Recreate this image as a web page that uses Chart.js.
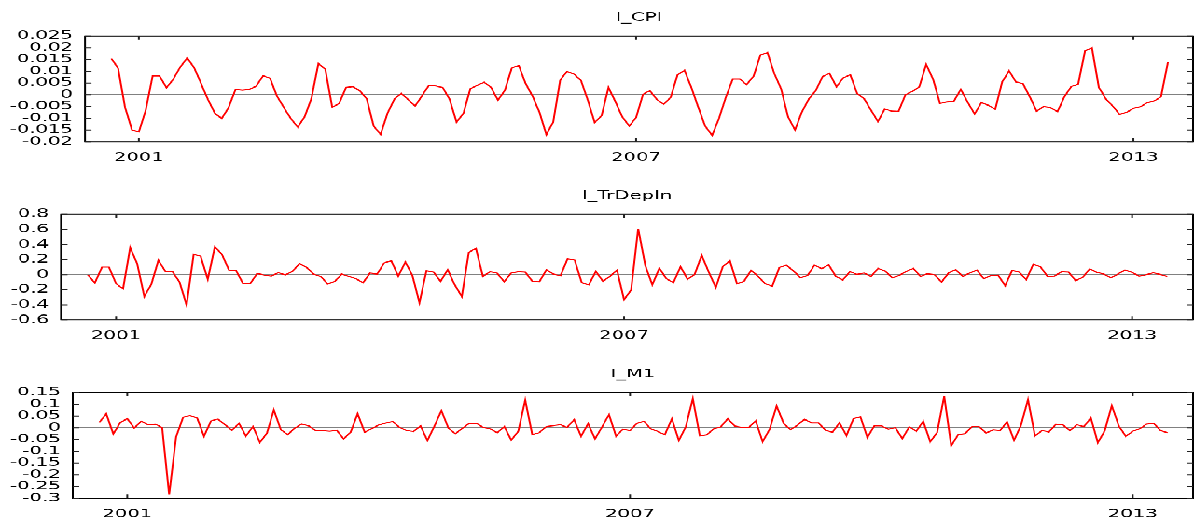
<!DOCTYPE html>
<html><head><meta charset="utf-8">
<script src="https://cdn.jsdelivr.net/npm/chart.js@4.4.1/dist/chart.umd.min.js"></script>
<style>
html,body{margin:0;padding:0;background:#fff;overflow:hidden;width:1194px;height:525px;}
#wrap{position:absolute;left:0;top:0;width:640px;height:480px;transform-origin:0 0;transform:scale(1.865625,1.09375);}
canvas{position:absolute;left:0;}
</style></head><body>
<div id="wrap">
<canvas id="c1" width="640" height="160" style="top:0px"></canvas>
<canvas id="c2" width="640" height="160" style="top:163px"></canvas>
<canvas id="c3" width="640" height="160" style="top:325.8px"></canvas>
</div>
<script>
// Monthly data, first observation 2000:09
const START_YEAR = 2000, START_MONTH = 9;
const X_TICKS = [2001, 2007, 2013];
const X_MIN = 2000.35, X_MAX = 2013.72;

const CPI = [0.0155,0.0112,-0.0054,-0.0150,-0.0158,-0.0065,0.0081,0.0080,0.0030,0.0067,
0.0118,0.0158,0.0115,0.0048,-0.0020,-0.0079,-0.0101,-0.0054,0.0023,0.0020,
0.0023,0.0037,0.0081,0.0070,-0.0006,-0.0055,-0.0101,-0.0138,-0.0094,-0.0014,
0.0133,0.0108,-0.0053,-0.0037,0.0031,0.0035,0.0017,-0.0018,-0.0133,-0.0169,
-0.0079,-0.0018,0.0006,-0.0021,-0.0048,-0.0004,0.0040,0.0037,0.0031,-0.0020,
-0.0116,-0.0079,0.0026,0.0040,0.0053,0.0031,-0.0023,0.0020,0.0114,0.0125,
0.0048,-0.0006,-0.0074,-0.0170,-0.0116,0.0062,0.0099,0.0088,0.0062,-0.0023,
-0.0118,-0.0089,0.0031,-0.0030,-0.0094,-0.0133,-0.0097,0.0003,0.0017,-0.0020,
-0.0040,-0.0011,0.0085,0.0104,0.0031,-0.0054,-0.0133,-0.0173,-0.0101,-0.0009,
0.0067,0.0067,0.0043,0.0079,0.0169,0.0180,0.0091,0.0024,-0.0094,-0.0150,
-0.0074,-0.0018,0.0017,0.0078,0.0091,0.0034,0.0072,0.0085,0.0006,-0.0017,
-0.0065,-0.0114,-0.0061,-0.0070,-0.0071,0.0001,0.0014,0.0034,0.0129,0.0065,
-0.0037,-0.0030,-0.0028,0.0023,-0.0031,-0.0082,-0.0033,-0.0045,-0.0062,0.0055,
0.0102,0.0054,0.0048,-0.0009,-0.0070,-0.0050,-0.0055,-0.0072,-0.0009,0.0035,
0.0044,0.0187,0.0200,0.0031,-0.0017,-0.0048,-0.0084,-0.0075,-0.0058,-0.0051,
-0.0034,-0.0026,-0.0009,0.0138];

const TRDEPIN = [0.0,-0.11,0.10,0.10,-0.12,-0.185,0.36,0.146,-0.29,-0.128,
0.194,0.044,0.04,-0.097,-0.406,0.27,0.243,-0.06,0.371,0.27,
0.062,0.057,-0.12,-0.12,0.018,-0.004,-0.018,0.027,-0.004,0.044,
0.15,0.097,0.009,-0.022,-0.124,-0.088,0.009,-0.022,-0.053,-0.106,
0.022,0.009,0.157,0.186,-0.02,0.168,-0.009,-0.371,0.053,0.035,
-0.088,0.066,-0.133,-0.29,0.296,0.349,-0.022,0.04,0.022,-0.093,
0.022,0.04,0.035,-0.088,-0.093,0.066,0.009,-0.013,0.212,0.194,
-0.106,-0.137,0.044,-0.088,-0.022,0.062,-0.33,-0.2,0.61,0.124,
-0.133,0.088,-0.053,-0.106,0.106,-0.062,0.004,0.26,0.035,-0.172,
0.11,0.186,-0.12,-0.088,0.057,-0.022,-0.12,-0.155,0.095,0.128,
0.05,-0.04,-0.009,0.128,0.08,0.133,-0.022,-0.07,0.04,0.004,
0.022,-0.022,0.084,0.049,-0.04,-0.009,0.044,0.084,-0.022,0.013,
0.0,-0.097,0.026,0.066,-0.022,0.022,0.062,-0.053,-0.009,-0.004,
-0.146,0.057,0.035,-0.066,0.141,0.106,-0.022,-0.018,0.04,0.035,
-0.08,-0.035,0.08,0.031,0.009,-0.04,0.009,0.062,0.031,-0.018,
0.0,0.026,0.004,-0.022];

const M1 = [0.023,0.060,-0.026,0.022,0.039,-0.001,0.028,0.013,0.015,0.002,
-0.284,-0.039,0.045,0.052,0.042,-0.036,0.030,0.037,0.013,-0.011,
0.019,-0.035,0.005,-0.062,-0.023,0.076,-0.009,-0.029,-0.001,0.016,
0.008,-0.012,-0.012,-0.015,-0.011,-0.047,-0.018,0.060,-0.019,-0.004,
0.012,0.020,0.027,0.002,-0.012,-0.016,0.008,-0.054,0.008,0.073,
-0.002,-0.025,-0.002,0.019,0.019,0.002,-0.005,-0.021,0.005,-0.052,
-0.015,0.118,-0.029,-0.021,0.005,0.009,0.013,0.002,0.035,-0.036,
0.018,-0.047,0.004,0.056,-0.036,-0.006,-0.012,0.019,0.028,-0.005,
-0.016,-0.029,0.039,-0.054,0.005,0.124,-0.035,-0.030,-0.004,0.004,
0.039,0.008,0.002,0.001,0.030,-0.059,-0.006,0.093,0.019,-0.008,
0.012,0.036,0.021,0.021,-0.011,-0.019,0.022,-0.033,0.039,0.047,
-0.042,0.009,0.009,-0.006,0.001,-0.046,0.005,-0.015,0.028,-0.059,
-0.019,0.135,-0.077,-0.029,-0.025,0.005,0.005,-0.022,-0.009,-0.012,
0.026,-0.053,0.011,0.120,-0.035,-0.012,-0.018,0.015,0.013,-0.012,
0.013,0.005,0.043,-0.063,-0.012,0.094,0.008,-0.036,-0.015,-0.004,
0.016,0.019,-0.012,-0.021];

const CPI_TICKS = [-0.02,-0.015,-0.01,-0.005,0,0.005,0.01,0.015,0.02,0.025];
const TRDEPIN_TICKS = [-0.6,-0.4,-0.2,0,0.2,0.4,0.6,0.8];
const M1_TICKS = [-0.3,-0.25,-0.2,-0.15,-0.1,-0.05,0,0.05,0.1,0.15];

const FONT = "'DejaVu Sans', sans-serif";
const xValues = CPI.map((_, i) => START_YEAR + (START_MONTH - 1 + i) / 12);

const framePlugin = {
  id: 'frame',
  afterDraw(chart) {
    const {ctx, chartArea: a, scales: {x, y}} = chart;
    ctx.save();
    ctx.strokeStyle = '#000';
    ctx.lineWidth = 1;
    ctx.strokeRect(a.left, a.top, a.right - a.left, a.bottom - a.top);
    ctx.beginPath();
    const L = 3.5;
    x.ticks.forEach(t => {
      const px = x.getPixelForValue(t.value);
      ctx.moveTo(px, a.top); ctx.lineTo(px, a.top + L);
      ctx.moveTo(px, a.bottom); ctx.lineTo(px, a.bottom - L);
    });
    y.ticks.forEach(t => {
      const py = y.getPixelForValue(t.value);
      ctx.moveTo(a.left, py); ctx.lineTo(a.left + L, py);
      ctx.moveTo(a.right, py); ctx.lineTo(a.right - L, py);
    });
    ctx.strokeStyle = '#222';
    ctx.stroke();
    ctx.restore();
  }
};

function makePanel(id, title, values, yTicks, yAxisWidth) {
  const data = values.map((v, i) => ({x: xValues[i], y: v}));
  new Chart(document.getElementById(id), {
    type: 'line',
    data: {datasets: [{data, borderColor: '#ff0000', borderWidth: 1, pointRadius: 0, tension: 0, fill: false}]},
    options: {
      responsive: false, animation: false, devicePixelRatio: 2,
      layout: {padding: {left: 0, right: 0.5, top: 0, bottom: 0}},
      plugins: {
        legend: {display: false}, tooltip: {enabled: false},
        title: {display: true, text: title, fullSize: false, color: '#000',
          font: {family: FONT, size: 10.5, weight: 'normal'}, padding: {top: 9.8, bottom: 10.5}}
      },
      scales: {
        x: {
          type: 'linear', min: X_MIN, max: X_MAX,
          afterBuildTicks: s => { s.ticks = X_TICKS.map(v => ({value: v})); },
          afterFit: s => { s.height = 30.4; s.paddingLeft = 0; s.paddingRight = 0; },
          grid: {display: false, drawTicks: false}, border: {display: false},
          ticks: {color: '#000', font: {family: FONT, size: 10.5}, padding: 8.3, maxRotation: 0, autoSkip: false, callback: v => String(v)}
        },
        y: {
          min: yTicks[0], max: yTicks[yTicks.length - 1],
          afterBuildTicks: s => { s.ticks = yTicks.map(v => ({value: v})); },
          afterFit: s => { s.width = yAxisWidth; s.paddingTop = 0; s.paddingBottom = 0; },
          grid: {drawTicks: false, lineWidth: 1,
            color: c => (c.tick && Math.abs(c.tick.value) < 1e-12) ? '#808080' : 'rgba(0,0,0,0)'},
          border: {display: false},
          ticks: {color: '#000', font: {family: FONT, size: 10.5}, padding: 6.5, autoSkip: false, callback: v => String(v)}
        }
      }
    },
    plugins: [framePlugin]
  });
}

makePanel('c1', 'l_CPI', CPI, CPI_TICKS, 45.56);
makePanel('c2', 'l_TrDepIn', TRDEPIN, TRDEPIN_TICKS, 32.7);
makePanel('c3', 'l_M1', M1, M1_TICKS, 39.0);
</script>
</body></html>
